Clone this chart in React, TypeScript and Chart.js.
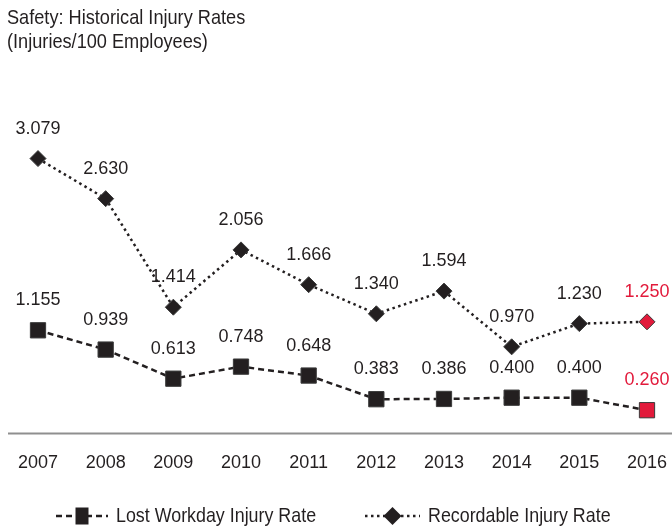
import React, { useEffect, useRef } from "react";
import { Chart, registerables } from "chart.js";

Chart.register(...registerables);

const years = ["2007", "2008", "2009", "2010", "2011", "2012", "2013", "2014", "2015", "2016"];
const lostWorkday = [1.155, 0.939, 0.613, 0.748, 0.648, 0.383, 0.386, 0.4, 0.4, 0.26];
const recordable = [3.079, 2.63, 1.414, 2.056, 1.666, 1.34, 1.594, 0.97, 1.23, 1.25];
const titleLines = ["Safety: Historical Injury Rates", "(Injuries/100 Employees)"];
const seriesNames = ["Lost Workday Injury Rate", "Recordable Injury Rate"];

const FONT = '"Liberation Sans", Arial, Helvetica, sans-serif';
const DARK = "#231f20";
const RED = "#e21a3b";
const TEXT = "#231f20";

const pointColors = years.map((_, i) => (i === years.length - 1 ? RED : DARK));

function condensedText(ctx: CanvasRenderingContext2D, text: string, x: number, y: number, sx: number) {
  ctx.save();
  ctx.translate(x, y);
  ctx.scale(sx, 1);
  ctx.fillText(text, 0, 0);
  ctx.restore();
}

const decorPlugin = {
  id: "decor",
  beforeDatasetsDraw(chart: any) {
    const { ctx } = chart;
    const y = chart.scales.y.getPixelForValue(0);
    ctx.save();
    ctx.strokeStyle = "#8f8f8f";
    ctx.lineWidth = 2;
    ctx.beginPath();
    ctx.moveTo(8, y);
    ctx.lineTo(chart.width, y);
    ctx.stroke();
    ctx.restore();
  },
  afterDatasetsDraw(chart: any) {
    const { ctx } = chart;
    ctx.save();
    ctx.font = `18px ${FONT}`;
    ctx.textAlign = "center";
    ctx.textBaseline = "middle";
    chart.data.datasets.forEach((ds: any, di: number) => {
      const meta = chart.getDatasetMeta(di);
      meta.data.forEach((el: any, i: number) => {
        ctx.fillStyle = i === years.length - 1 ? RED : TEXT;
        ctx.fillText(Number(ds.data[i]).toFixed(3), el.x, el.y - 30);
      });
    });
    ctx.restore();
  },
  afterDraw(chart: any) {
    const { ctx } = chart;
    ctx.save();
    ctx.fillStyle = TEXT;
    ctx.font = `21px ${FONT}`;
    ctx.textAlign = "left";
    ctx.textBaseline = "alphabetic";
    titleLines.forEach((t, i) => condensedText(ctx, t, 7, 24 + i * 24, 0.865));

    // legend
    const ly = 516;
    const items = [
      { x: 56, len: 52, dash: [6, 4], style: "rect", size: 13, name: seriesNames[0] },
      { x: 365, len: 55, dash: [2.5, 3.5], style: "rectRot", size: 9, name: seriesNames[1] },
    ];
    items.forEach((it) => {
      ctx.strokeStyle = DARK;
      ctx.lineWidth = 2.5;
      ctx.setLineDash(it.dash);
      ctx.beginPath();
      ctx.moveTo(it.x, ly);
      ctx.lineTo(it.x + it.len, ly);
      ctx.stroke();
      ctx.setLineDash([]);
      ctx.fillStyle = DARK;
      const cx = it.x + it.len / 2;
      ctx.beginPath();
      if (it.style === "rect") {
        ctx.rect(cx - it.size / 2, ly - 8.5, it.size, 17);
      } else {
        const r = it.size;
        ctx.moveTo(cx, ly - r);
        ctx.lineTo(cx + r, ly);
        ctx.lineTo(cx, ly + r);
        ctx.lineTo(cx - r, ly);
        ctx.closePath();
      }
      ctx.fill();
      ctx.fillStyle = TEXT;
      ctx.font = `21px ${FONT}`;
      ctx.textAlign = "left";
      ctx.textBaseline = "middle";
      condensedText(ctx, it.name, it.x + it.len + 8, ly, 0.85);
    });
    ctx.restore();
  },
};

export default function App() {
  const ref = useRef<HTMLCanvasElement | null>(null);
  useEffect(() => {
    if (!ref.current) return;
    const chart = new Chart(ref.current, {
      type: "line",
      data: {
        labels: years,
        datasets: [
          {
            label: seriesNames[0],
            data: lostWorkday,
            borderColor: DARK,
            borderWidth: 2.5,
            borderDash: [6, 4],
            pointStyle: "rect",
            pointRadius: 10.8,
            pointHoverRadius: 10.8,
            pointBackgroundColor: pointColors,
            pointBorderColor: "#3a3a3a",
            pointBorderWidth: 1,
            tension: 0,
            clip: false,
          } as any,
          {
            label: seriesNames[1],
            data: recordable,
            borderColor: DARK,
            borderWidth: 2.5,
            borderDash: [2.5, 3.5],
            pointStyle: "rectRot",
            pointRadius: 8,
            pointHoverRadius: 8,
            pointBackgroundColor: pointColors,
            pointBorderColor: "#3a3a3a",
            pointBorderWidth: 1,
            tension: 0,
            clip: false,
          } as any,
        ],
      },
      options: {
        responsive: false,
        animation: false,
        events: [],
        layout: { padding: { top: 121, left: 38, right: 25, bottom: 54 } },
        plugins: {
          legend: { display: false },
          title: { display: false },
          tooltip: { enabled: false },
        },
        scales: {
          x: {
            offset: false,
            grid: {
              display: true,
              drawOnChartArea: false,
              drawTicks: true,
              tickLength: 16,
              color: "rgba(0,0,0,0)",
            },
            border: { display: false },
            ticks: {
              padding: 3,
              color: TEXT,
              font: { family: FONT, size: 18 },
              maxRotation: 0,
              autoSkip: false,
            },
          },
          y: {
            display: false,
            min: 0,
            max: 3.5,
          },
        },
      },
      plugins: [decorPlugin],
    });
    return () => chart.destroy();
  }, []);
  return (
    <div style={{ position: "fixed", left: 0, top: 0, width: 672, height: 531, background: "#fff" }}>
      <canvas ref={ref} width={672} height={531} style={{ width: 672, height: 531, display: "block" }} />
    </div>
  );
}
